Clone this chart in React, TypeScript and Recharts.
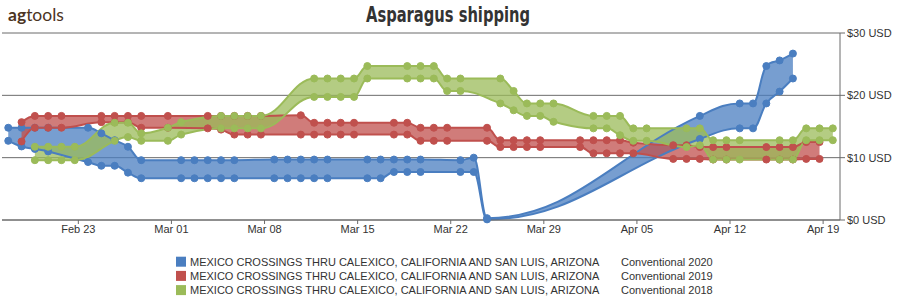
import React from 'react';
import { ComposedChart, Area, Line, XAxis, YAxis, CartesianGrid } from 'recharts';

// day index on the 2020 calendar: 0 = Feb 23
const tickDays = [0, 7, 14, 21, 28, 35, 42, 49, 56];
const tickLabels = ['Feb 23', 'Mar 01', 'Mar 08', 'Mar 15', 'Mar 22', 'Mar 29', 'Apr 05', 'Apr 12', 'Apr 19'];
const yTicks = [0, 10, 20, 30];
const regionName = 'MEXICO CROSSINGS THRU CALEXICO, CALIFORNIA AND SAN LUIS, ARIZONA';
const seriesLabels = ['Conventional 2020', 'Conventional 2019', 'Conventional 2018'];
const seriesColors = ['#4a7ec0', '#c0504d', '#9bbb59'];

// Conventional 2020
const days2020 = [-5, -4, -3, -2, 1, 2, 3, 4, 5, 8, 9, 10, 11, 12, 15, 16, 17, 18, 19, 22, 23, 24, 25, 26, 29, 30, 31, 47, 50, 51, 52, 53, 54];
const low2020 = [12.7, 11.8, 11.4, 11.0, 9.3, 8.7, 8.7, 7.6, 6.7, 6.7, 6.7, 6.7, 6.7, 6.7, 6.7, 6.7, 6.7, 6.7, 6.7, 6.7, 6.7, 7.7, 7.7, 7.7, 7.7, 7.7, 0.1, 13.0, 14.7, 14.7, 18.7, 20.6, 22.7];
const high2020 = [14.8, 14.8, 14.8, 14.8, 14.8, 13.9, 12.8, 11.75, 9.6, 9.6, 9.6, 9.6, 9.6, 9.6, 9.7, 9.7, 9.7, 9.7, 9.7, 9.7, 9.7, 9.7, 9.7, 9.7, 9.6, 10.0, 0.3, 16.7, 18.7, 18.7, 24.7, 25.6, 26.7];

// Conventional 2019
const days2019 = [-4, -3, -2, -1, 2, 3, 4, 5, 7, 10, 11, 12, 13, 14, 17, 18, 19, 20, 21, 24, 25, 26, 27, 28, 31, 32, 33, 34, 35, 38, 39, 40, 41, 42, 45, 46, 47, 48, 49, 52, 53, 54, 55, 56];
const low2019 = [12.6, 14.8, 14.8, 14.8, 15.7, 15.7, 15.7, 14.8, 14.8, 14.7, 14.5, 13.7, 13.7, 13.7, 13.7, 13.7, 13.7, 13.7, 13.7, 13.7, 13.7, 12.7, 12.7, 12.7, 12.7, 11.7, 11.7, 11.7, 11.7, 11.7, 10.7, 10.7, 10.7, 10.7, 9.8, 9.8, 9.8, 9.7, 9.7, 9.7, 9.7, 9.7, 9.8, 9.8];
const high2019 = [15.7, 16.7, 16.7, 16.7, 16.7, 16.7, 16.7, 16.7, 16.7, 16.7, 16.7, 16.7, 16.7, 16.7, 16.8, 15.6, 15.6, 15.6, 15.6, 15.6, 15.6, 14.8, 14.8, 14.8, 14.8, 12.8, 12.8, 12.8, 12.8, 12.8, 12.8, 12.8, 12.8, 12.4, 12.0, 12.0, 11.7, 11.7, 11.7, 11.7, 11.7, 11.7, 12.5, 12.5];

// Conventional 2018
const days2018 = [-3, -2, -1, 0, 3, 4, 5, 7, 8, 11, 12, 13, 14, 18, 19, 20, 21, 22, 25, 26, 27, 28, 29, 32, 33, 34, 35, 36, 39, 40, 41, 42, 43, 46, 47, 48, 49, 50, 53, 54, 55, 56, 57];
const low2018 = [9.6, 9.6, 9.6, 9.6, 12.7, 13.3, 12.7, 12.7, 13.7, 14.7, 14.7, 14.7, 14.7, 19.75, 19.75, 19.75, 19.75, 22.7, 22.7, 22.7, 22.7, 20.7, 20.7, 18.7, 17.6, 16.7, 16.7, 15.75, 14.7, 14.7, 13.6, 12.7, 12.7, 11.7, 12.0, 9.7, 9.7, 9.7, 9.7, 9.7, 12.8, 12.8, 12.8];
const high2018 = [11.75, 11.75, 11.75, 11.75, 15.6, 15.6, 13.9, 14.8, 15.7, 16.7, 16.7, 16.7, 16.7, 22.7, 22.7, 22.7, 22.7, 24.7, 24.7, 24.7, 24.7, 22.7, 22.7, 22.7, 20.7, 18.7, 18.7, 18.7, 16.7, 16.7, 16.7, 14.7, 14.7, 14.7, 14.7, 12.8, 12.8, 12.8, 12.8, 12.8, 14.7, 14.7, 14.7];

const TICK_SHIFT = 0.27;
const xDomain = [-5.47, 57.54];

const build = (days: number[], low: number[], high: number[]) =>
  days.map((d, i) => ({ d, low: low[i], high: high[i], range: [low[i], high[i]] }));

const series = [
  build(days2020, low2020, high2020),
  build(days2019, low2019, high2019),
  build(days2018, low2018, high2018),
];

const xTicks = tickDays.map((d) => d + TICK_SHIFT);
const fmtX = (v: number) => tickLabels[tickDays.indexOf(Math.round(v - TICK_SHIFT))] ?? '';

// Spline curve in the style of a smoothed (1.5) cubic with straight-through control points
function smoothSpline(context: any) {
  let pts: [number, number][] = [];
  let lineFlag = NaN;
  const draw = () => {
    const n = pts.length;
    if (!n) return;
    if (lineFlag) context.lineTo(pts[0][0], pts[0][1]);
    else context.moveTo(pts[0][0], pts[0][1]);
    const smoothing = 1.5;
    const denom = smoothing + 1;
    const lc: ([number, number] | null)[] = new Array(n).fill(null);
    const rc: ([number, number] | null)[] = new Array(n).fill(null);
    for (let i = 1; i < n - 1; i++) {
      const [px, py] = pts[i];
      const [lx, ly] = pts[i - 1];
      const [nx, ny] = pts[i + 1];
      const lcx = (smoothing * px + lx) / denom;
      let lcy = (smoothing * py + ly) / denom;
      const rcx = (smoothing * px + nx) / denom;
      let rcy = (smoothing * py + ny) / denom;
      let correction = 0;
      if (rcx !== lcx) correction = ((rcy - lcy) * (rcx - px)) / (rcx - lcx) + py - rcy;
      lcy += correction;
      rcy += correction;
      if (lcy > ly && lcy > py) {
        lcy = Math.max(ly, py);
        rcy = 2 * py - lcy;
      } else if (lcy < ly && lcy < py) {
        lcy = Math.min(ly, py);
        rcy = 2 * py - lcy;
      }
      if (rcy > ny && rcy > py) {
        rcy = Math.max(ny, py);
        lcy = 2 * py - rcy;
      } else if (rcy < ny && rcy < py) {
        rcy = Math.min(ny, py);
        lcy = 2 * py - rcy;
      }
      lc[i] = [lcx, lcy];
      rc[i] = [rcx, rcy];
    }
    for (let i = 1; i < n; i++) {
      const c1 = rc[i - 1] ?? pts[i - 1];
      const c2 = lc[i] ?? pts[i];
      context.bezierCurveTo(c1[0], c1[1], c2[0], c2[1], pts[i][0], pts[i][1]);
    }
  };
  return {
    areaStart() {
      lineFlag = 0;
    },
    areaEnd() {
      lineFlag = NaN;
    },
    lineStart() {
      pts = [];
    },
    lineEnd() {
      draw();
      if (lineFlag || (lineFlag !== 0 && pts.length === 1)) context.closePath();
      lineFlag = 1 - lineFlag;
    },
    point(x: number, y: number) {
      pts.push([+x, +y]);
    },
  };
}

const FONT = "'Liberation Sans', Arial, sans-serif";
const AXIS = '#6b6b6b';

const YTick = (props: any) => {
  const { x, y, payload } = props;
  return (
    <text x={x} y={y} dy="0.355em" textAnchor="start" fill="#333" fontSize={11} fontFamily={FONT}>
      {`$${payload.value} USD`}
    </text>
  );
};

export default function App() {
  const items: React.ReactNode[] = [];
  series.forEach((data, i) => {
    const c = seriesColors[i];
    items.push(
      <Area key={`a${i}`} data={data} dataKey="range" type={smoothSpline as any} stroke="none" fill={c} fillOpacity={0.75} isAnimationActive={false} activeDot={false} />
    );
    items.push(
      <Line key={`l${i}`} data={data} dataKey="low" type={smoothSpline as any} stroke={c} strokeWidth={2} dot={{ r: 3.5, fill: c, stroke: c, strokeWidth: 1 }} activeDot={false} isAnimationActive={false} />
    );
    items.push(
      <Line key={`h${i}`} data={data} dataKey="high" type={smoothSpline as any} stroke={c} strokeWidth={2} dot={{ r: 3.5, fill: c, stroke: c, strokeWidth: 1 }} activeDot={false} isAnimationActive={false} />
    );
  });

  return (
    <div style={{ position: 'absolute', left: 0, top: 0, width: 898, height: 300, background: '#fff' }}>
      <ComposedChart width={898} height={300} margin={{ top: 33, right: 0, bottom: 50, left: 2 }}>
        <CartesianGrid vertical={false} stroke={AXIS} strokeWidth={1} />
        <XAxis
          type="number"
          dataKey="d"
          domain={xDomain}
          allowDataOverflow
          ticks={xTicks}
          interval={0}
          tickFormatter={fmtX}
          height={30}
          tickSize={4}
          tickMargin={1}
          stroke={AXIS}
          tick={{ fill: '#333', fontSize: 11, fontFamily: FONT }}
        />
        <YAxis
          orientation="right"
          type="number"
          domain={[0, 30]}
          ticks={yTicks}
          interval={0}
          width={58}
          tickSize={5}
          tickMargin={2}
          stroke={AXIS}
          tick={<YTick />}
        />
        {items}
      </ComposedChart>
      <svg width={898} height={300} style={{ position: 'absolute', left: 0, top: 0, pointerEvents: 'none' }}>
        <text x={8} y={20.5} fontFamily="Lato, 'Open Sans', sans-serif" fontSize={17.5} fill="#4b3423">
          <tspan fontWeight={700}>ag</tspan>
          <tspan fontWeight={400}>tools</tspan>
        </text>
        <text
          x={448}
          y={21.5}
          textAnchor="middle"
          fontFamily="'DejaVu Sans Condensed', 'Liberation Sans', sans-serif"
          fontWeight={700}
          fontSize={21}
          fill="#333"
          textLength={164}
          lengthAdjust="spacingAndGlyphs"
        >
          Asparagus shipping
        </text>
        {seriesLabels.map((lab, i) => {
          const base = 265.7 + i * 14.2;
          return (
            <g key={lab}>
              <rect x={176} y={base - 9} width={10} height={10} fill={seriesColors[i]} />
              <text x={190} y={base} fontFamily={FONT} fontSize={11} fill="#333">{regionName}</text>
              <text x={621} y={base} fontFamily={FONT} fontSize={11} fill="#333">{lab}</text>
            </g>
          );
        })}
      </svg>
    </div>
  );
}
